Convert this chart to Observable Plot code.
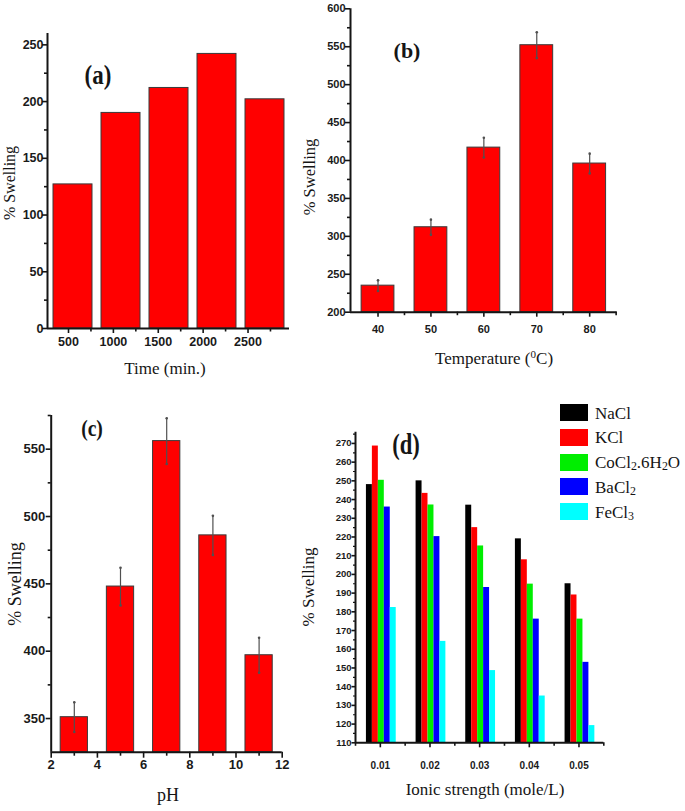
<!DOCTYPE html>
<html><head><meta charset="utf-8">
<script src="https://cdn.jsdelivr.net/npm/d3@7"></script>
<script src="https://cdn.jsdelivr.net/npm/@observablehq/plot@0.6"></script>
<style>
body{margin:0;background:#fff;}
#wrap{position:relative;width:685px;height:811px;overflow:hidden;background:#fff;}
.lbl{position:absolute;white-space:nowrap;font-family:"Liberation Serif","Times New Roman",serif;color:#151515;line-height:1;}
.lbl sub{font-size:70%;vertical-align:-0.25em;line-height:0;}
.lbl sup{font-size:65%;vertical-align:0.5em;line-height:0;}
.sw{position:absolute;width:28px;height:17px;}
</style></head><body><div id="wrap"></div>
<script>
// ---------- data ----------
// (a) time
const timeLabels = [500, 1000, 1500, 2000, 2500];
const timeSwelling = [127, 190, 212, 242, 202];
// (b) temperature
const temps = [40, 50, 60, 70, 80];
const tempSwelling = [235, 312, 417, 552, 396];
const tempErr = [7, 10, 13, 17, 13];
// (c) pH
const pHs = [3, 5, 7, 9, 11];
const pHSwelling = [351, 448, 556, 486, 397];
const pHErr = [11, 14, 17, 14.5, 13];
// (d) ionic strength
const ionic = [0.01, 0.02, 0.03, 0.04, 0.05];
const saltNames = ["NaCl", "KCl", "CoCl2.6H2O", "BaCl2", "FeCl3"];
const saltLegend = ["NaCl", "KCl", "CoCl<sub>2</sub>.6H<sub>2</sub>O", "BaCl<sub>2</sub>", "FeCl<sub>3</sub>"];
const saltColors = ["#000000", "#ff0000", "#00ee00", "#0000ff", "#00ffff"];
const swNaCl  = [248, 250, 237, 219, 195];
const swKCl   = [268.6, 243.3, 225, 207.8, 189];
const swCoCl2 = [250.3, 237.1, 215.2, 194.8, 176.1];
const swBaCl2 = [236, 220.2, 193, 176.1, 153];
const swFeCl3 = [182.3, 164.2, 148.6, 135, 119.2];
const saltSeries = [swNaCl, swKCl, swCoCl2, swBaCl2, swFeCl3];

// ---------- helpers ----------
const wrap = document.getElementById("wrap");
const tickFont = "'Liberation Sans', Arial, Helvetica, sans-serif";
function place(node, left, top) {
  node.style.position = "absolute";
  node.style.left = left + "px";
  node.style.top = top + "px";
  wrap.appendChild(node);
  return node;
}
function label(html, cx, cy, size, opts = {}) {
  const d = document.createElement("div");
  d.className = "lbl";
  d.innerHTML = html;
  d.style.fontSize = size + "px";
  d.style.left = cx + "px";
  d.style.top = cy + "px";
  if (opts.bold) d.style.fontWeight = "bold";
  let t = "translate(-50%,-50%)";
  if (opts.rotate) t += " rotate(-90deg)";
  if (opts.sx) t += ` scaleX(${opts.sx})`;
  d.style.transform = t;
  wrap.appendChild(d);
  return d;
}
function st(size) {
  return {fontFamily: tickFont, fontWeight: "bold", fontSize: size + "px", color: "#1a1a1a", background: "transparent", overflow: "visible"};
}
const plain = d => String(d);
const inkColor = "#151515";
const lab = {label: null, tickSize: 0};
// axis helper: converts a pixel tick length into data units for this panel's scales
function axes(geo, xd, yd) {
  const xu = (xd[1] - xd[0]) / (geo.width - geo.marginLeft - geo.marginRight);
  const yu = (yd[1] - yd[0]) / (geo.height - geo.marginTop - geo.marginBottom);
  return {
    xTicks: (vals, n, w = 1.6) => Plot.ruleX(vals, {x: d => d, y1: yd[0], y2: yd[0] - n * yu, stroke: inkColor, strokeWidth: w}),
    yTicks: (vals, n, w = 1.6) => Plot.ruleY(vals, {y: d => d, x1: xd[0], x2: xd[0] - n * xu, stroke: inkColor, strokeWidth: w}),
    lines: [
      Plot.ruleY([yd[0]], {stroke: inkColor, strokeWidth: 2, x1: xd[0], x2: xd[1]}),
      Plot.ruleX([xd[0]], {stroke: inkColor, strokeWidth: 2, y1: yd[0], y2: yd[1]})
    ]
  };
}
const barStroke = {stroke: "#3a3a3a", strokeWidth: 1};
const errStroke = "#505050";

// ---------- (a) ----------
const dataA = timeLabels.map((t, i) => ({t, v: timeSwelling[i]}));
const geoA = {width: 300, height: 380, marginLeft: 47, marginRight: 11, marginTop: 33, marginBottom: 52};
const aY = [0, 260];
const aBars = Plot.plot({
  ...geoA, style: st(12.5),
  x: {type: "band", domain: timeLabels, paddingInner: 0.19, paddingOuter: 0.1, axis: null},
  y: {domain: aY, axis: null},
  marks: [Plot.barY(dataA, {x: "t", y: "v", fill: "#ff0000", ...barStroke})]
});
place(aBars, 0, 0);
const aTickDomain = [266, 2962];
const axA = axes(geoA, aTickDomain, aY);
const aAxes = Plot.plot({
  ...geoA, style: st(12.5),
  x: {domain: aTickDomain, label: null},
  y: {domain: aY, label: null},
  marks: [
    Plot.axisX({ticks: timeLabels, tickPadding: 9, tickFormat: plain, ...lab}),
    Plot.axisY({ticks: d3.range(0, 251, 50), tickPadding: 4, tickFormat: plain, ...lab}),
    axA.xTicks(timeLabels, 5),
    axA.xTicks(d3.range(750, aTickDomain[1], 500), 3.5),
    axA.yTicks(d3.range(0, 251, 50), 5),
    axA.yTicks(d3.range(25, 260, 50), 3),
    ...axA.lines
  ]
});
place(aAxes, 0, 0);
label("% Swelling", 10, 183, 16, {rotate: true});
label("Time (min.)", 165, 368, 17);
label("(a)", 98, 75, 27, {bold: true, sx: 0.85});

// ---------- (b) ----------
const dataB = temps.map((t, i) => ({t, v: tempSwelling[i], e: tempErr[i]}));
const geoB = {width: 400, height: 380, marginLeft: 70, marginRight: 63.3, marginTop: 8.3, marginBottom: 68.3};
const bX = [34.8, 85.2];
const bY = [200, 600];
const bHalf = 3.1;
const axB = axes(geoB, bX, bY);
const bPlot = Plot.plot({
  ...geoB, style: st(11),
  x: {domain: bX, label: null},
  y: {domain: bY, label: null},
  marks: [
    Plot.rectY(dataB, {x1: d => d.t - bHalf, x2: d => d.t + bHalf, y1: bY[0], y2: "v", fill: "#ff0000", ...barStroke}),
    Plot.ruleX(dataB, {x: "t", y1: d => d.v - d.e, y2: d => d.v + d.e, stroke: errStroke, strokeWidth: 1.2}),
    Plot.dot(dataB, {x: "t", y: d => d.v + d.e, r: 1.3, fill: errStroke, stroke: null}),
    Plot.dot(dataB, {x: "t", y: d => d.v - d.e, r: 1.3, fill: errStroke, stroke: null}),
    Plot.axisX({ticks: temps, tickPadding: 13, tickFormat: plain, ...lab}),
    Plot.axisY({ticks: d3.range(200, 601, 50), tickPadding: 5, tickFormat: plain, ...lab}),
    axB.xTicks(temps, 5),
    axB.xTicks(d3.range(45, 86, 10), 3.5),
    axB.yTicks(d3.range(200, 601, 50), 5),
    axB.yTicks(d3.range(225, 600, 50), 3),
    ...axB.lines
  ]
});
place(bPlot, 280, 0);
label("% Swelling", 310, 177, 16.5, {rotate: true});
label("Temperature (<sup>0</sup>C)", 494, 358, 17);
label("(b)", 407, 51, 22, {bold: true});

// ---------- (c) ----------
const dataC = pHs.map((p, i) => ({p, v: pHSwelling[i], e: pHErr[i]}));
const geoC = {width: 300, height: 411, marginLeft: 50.7, marginRight: 18.3, marginTop: 15, marginBottom: 59.3};
const cX = [2, 12];
const cY = [325, 575];
const cHalf = 0.59;
const axC = axes(geoC, cX, cY);
const cPlot = Plot.plot({
  ...geoC, style: st(13),
  x: {domain: cX, label: null},
  y: {domain: cY, label: null},
  marks: [
    Plot.rectY(dataC, {x1: d => d.p - cHalf, x2: d => d.p + cHalf, y1: cY[0], y2: "v", fill: "#ff0000", ...barStroke}),
    Plot.ruleX(dataC, {x: "p", y1: d => d.v - d.e, y2: d => d.v + d.e, stroke: errStroke, strokeWidth: 1.2}),
    Plot.dot(dataC, {x: "p", y: d => d.v + d.e, r: 1.3, fill: errStroke, stroke: null}),
    Plot.dot(dataC, {x: "p", y: d => d.v - d.e, r: 1.3, fill: errStroke, stroke: null}),
    Plot.axisX({ticks: d3.range(2, 13, 2), tickPadding: 8, tickFormat: plain, ...lab}),
    Plot.axisY({ticks: d3.range(350, 551, 50), tickPadding: 6, tickFormat: plain, ...lab}),
    axC.xTicks(d3.range(2, 13, 2), 6),
    axC.xTicks(pHs, 4),
    axC.yTicks(d3.range(350, 551, 50), 5),
    axC.yTicks(d3.range(375, 576, 50), 3),
    ...axC.lines
  ]
});
place(cPlot, 0, 400);
label("% Swelling", 15, 584, 18, {rotate: true});
label("pH", 168, 795, 18);
label("(c)", 92, 428, 23, {bold: true, sx: 0.85});

// ---------- (d) ----------
const dW = 0.0012;
const dShift = 0.0002;
const dataD = [];
saltNames.forEach((s, k) => ionic.forEach((c, i) => dataD.push({c, k, salt: s, v: saltSeries[k][i]})));
const geoD = {width: 385, height: 411, marginLeft: 55, marginRight: 81.7, marginTop: 31.7, marginBottom: 68.7};
const dY = [110, 276];
const dX = [0.005, 0.055];
const axD = axes(geoD, dX, dY);
const dPlot = Plot.plot({
  ...geoD, style: st(9.5),
  x: {domain: dX, label: null},
  y: {domain: dY, label: null},
  color: {domain: saltNames, range: saltColors},
  marks: [
    Plot.rectY(dataD, {
      x1: d => d.c + (d.k - 2.5) * dW + dShift,
      x2: d => d.c + (d.k - 1.5) * dW + dShift,
      y1: dY[0], y2: "v", fill: "salt"
    }),
    Plot.axisX({ticks: ionic, tickPadding: 19, tickFormat: d3.format(".2f"), fontSize: 10, ...lab}),
    Plot.axisY({ticks: d3.range(110, 271, 10), tickPadding: 4, tickFormat: plain, ...lab}),
    axD.xTicks(ionic, 5),
    axD.xTicks(d3.range(0.005, 0.056, 0.01), 3.5),
    axD.yTicks(d3.range(110, 271, 10), 3.5),
    axD.yTicks(d3.range(115, 276, 10), 2, 1.2),
    ...axD.lines
  ]
});
place(dPlot, 300, 400);
label("% Swelling", 308, 587, 17, {rotate: true});
label("Ionic strength (mole/L)", 485, 789, 17);
label("(d)", 406, 444, 29, {bold: true, sx: 0.78});

// legend for (d)
saltLegend.forEach((html, k) => {
  const top = 404 + k * 24.8;
  const sw = document.createElement("div");
  sw.className = "sw";
  sw.style.background = saltColors[k];
  place(sw, 560, top);
  const t = document.createElement("div");
  t.className = "lbl";
  t.innerHTML = html;
  t.style.fontSize = "17px";
  t.style.left = "595px";
  t.style.top = (top + 8.5) + "px";
  t.style.transform = "translateY(-50%)";
  wrap.appendChild(t);
});
</script>
</body></html>
